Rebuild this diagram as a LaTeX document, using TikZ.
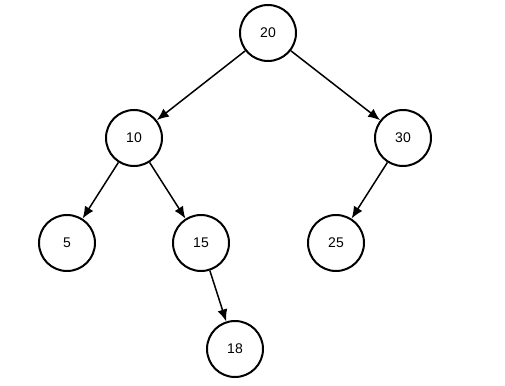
\documentclass[tikz,border=0pt]{standalone}
\usepackage{fontspec}
\setmainfont{Liberation Sans}
\usetikzlibrary{arrows.meta}

\begin{document}
\begin{tikzpicture}[
  x=1pt, y=-1pt,
  keynode/.style={circle, draw, line width=2pt, minimum size=56pt, inner sep=0pt, font=\fontsize{14}{16}\selectfont},
  arrow/.style={-{Latex[length=12pt,width=10pt]}, line width=1.5pt}
]
\useasboundingbox (0,0) rectangle (505,385);
\node[keynode] (n20) at (268,33) {20};
\node[keynode] (n10) at (134,138) {10};
\node[keynode] (n30) at (403,138) {30};
\node[keynode] (n5) at (67,243) {5};
\node[keynode] (n15) at (201,243) {15};
\node[keynode] (n25) at (336,243) {25};
\node[keynode] (n18) at (235,349) {18};

\draw[arrow] (n20) -- (n10);
\draw[arrow] (n20) -- (n30);
\draw[arrow] (n10) -- (n5);
\draw[arrow] (n10) -- (n15);
\draw[arrow] (n30) -- (n25);
\draw[arrow] (n15) -- (n18);
\end{tikzpicture}
\end{document}
